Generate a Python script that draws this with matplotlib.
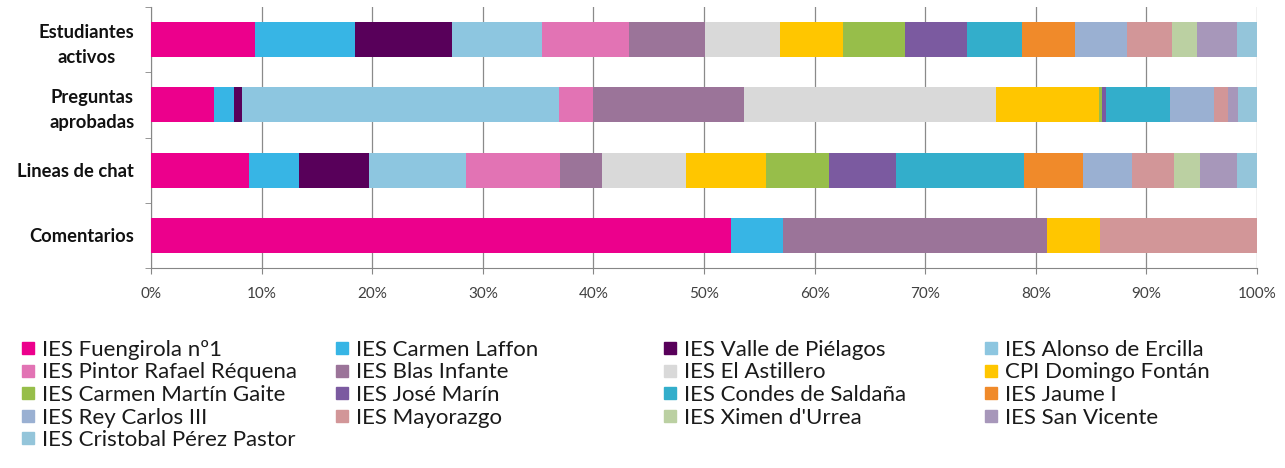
import matplotlib
matplotlib.use('Agg')
import matplotlib.pyplot as plt
import matplotlib.patches as mpatches
import numpy as np

plt.rcParams['font.family'] = ['Lato', 'DejaVu Sans']

categories = ['Estudiantes\nactivos', 'Preguntas\naprobadas', 'Lineas de chat', 'Comentarios']

schools = ['IES Fuengirola nº1', 'IES Carmen Laffon', 'IES Valle de Piélagos', 'IES Alonso de Ercilla',
           'IES Pintor Rafael Réquena', 'IES Blas Infante', 'IES El Astillero', 'CPI Domingo Fontán',
           'IES Carmen Martín Gaite', 'IES José Marín', 'IES Condes de Saldaña', 'IES Jaume I',
           'IES Rey Carlos III', 'IES Mayorazgo', "IES Ximen d'Urrea", 'IES San Vicente',
           'IES Cristobal Pérez Pastor']

colours = ['#EC008C', '#37B5E5', '#58005A', '#8DC6E0',
           '#E273B4', '#9B7499', '#D9D9D9', '#FFC600',
           '#97BE4A', '#7B5AA0', '#33AECB', '#F08A2A',
           '#9AB0D2', '#D29698', '#BBD0A2', '#A797BA',
           '#94C5DA']

# percentage share of each school, per category (rows follow `schools`)
estudiantes = [9.37, 9.10, 8.73, 8.16, 7.83, 6.90, 6.78, 5.69, 5.59, 5.65,
               4.95, 4.75, 4.76, 4.01, 2.26, 3.62, 1.85]
preguntas = [5.70, 1.77, 0.80, 28.63, 3.10, 13.58, 22.78, 9.34, 0.25, 0.43,
             5.72, 0.0, 4.05, 1.21, 0.0, 0.92, 1.72]
chat = [8.90, 4.52, 6.26, 8.76, 8.50, 3.87, 7.56, 7.25, 5.65, 6.12,
        11.50, 5.42, 4.37, 3.78, 2.40, 3.29, 1.85]
comentarios = [52.43, 4.70, 0.0, 0.0, 0.0, 23.85, 0.0, 4.82, 0.0, 0.0,
               0.0, 0.0, 0.0, 14.20, 0.0, 0.0, 0.0]

data = np.array([estudiantes, preguntas, chat, comentarios])
data = data / data.sum(axis=1, keepdims=True) * 100

W, H = 1285, 468
fig = plt.figure(figsize=(W / 100, H / 100), dpi=100)
ax = fig.add_axes([151 / W, 1 - 268 / H, (1257 - 151) / W, 261 / H])

y = np.arange(len(categories))
left = np.zeros(len(categories))
for i, name in enumerate(schools):
    ax.barh(y, data[:, i], left=left, height=0.54, color=colours[i], zorder=3)
    left += data[:, i]

ax.set_xlim(0, 100)
ax.set_ylim(len(categories) - 0.5, -0.5)
ax.set_xticks(np.arange(0, 101, 10))
ax.set_xticklabels(['{}%'.format(v) for v in range(0, 101, 10)], fontsize=11, color='#404040')
ax.set_yticks(y)
ax.set_yticklabels(categories, fontsize=13.2, fontweight='bold', color='#111111',
                   multialignment='center', linespacing=1.55)
ax.set_yticks(np.arange(-0.5, len(categories)), minor=True)
ax.tick_params(axis='y', which='major', length=0, pad=12)
ax.tick_params(axis='y', which='minor', length=4.5, color='#868686')
ax.tick_params(axis='x', length=4, color='#868686', pad=9.5)
ax.grid(axis='x', color='#8a8a8a', linewidth=0.9, zorder=0)
for s in ['top', 'right']:
    ax.spines[s].set_visible(False)
for s in ['left', 'bottom']:
    ax.spines[s].set_color('#868686')

# legend: Excel-style, filled row by row in 4 columns
col_x = [22, 336, 664, 985]
row_y = [348, 370.5, 393, 415.5, 438]
sq = 12
for k, name in enumerate(schools):
    r, c = divmod(k, 4)
    x0, yc = col_x[c], row_y[r]
    fig.patches.append(mpatches.Rectangle((x0 / W, 1 - (yc + sq / 2) / H), sq / W, sq / H,
                                          transform=fig.transFigure, color=colours[k]))
    fig.text((x0 + 20) / W, 1 - yc / H, name, fontsize=16, color='#1a1a1a',
             ha='left', va='center_baseline')

fig.savefig('out.png', dpi=100)
